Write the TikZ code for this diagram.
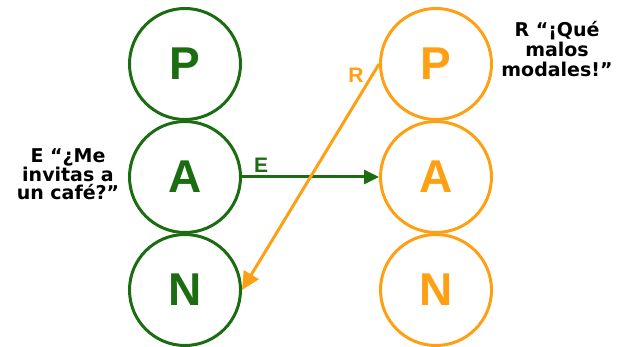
\documentclass[tikz,border=0pt]{standalone}
\usepackage{fontspec}
\setmainfont{Liberation Sans}
\newfontfamily\dvfont{DejaVu Sans}
\usetikzlibrary{arrows.meta}
\definecolor{pgreen}{RGB}{28,108,18}
\definecolor{porange}{RGB}{255,160,20}
\tikzset{
  ring/.style={circle, draw, line width=3pt, minimum size=111pt, inner sep=0pt,
    font=\fontsize{46}{46}\selectfont\bfseries},
  gring/.style={ring, draw=pgreen, text=pgreen},
  oring/.style={ring, draw=porange, text=porange},
  say/.style={align=center, font=\dvfont\bfseries\fontsize{19}{17.5}\selectfont, inner sep=0pt},
  lab/.style={font=\fontsize{21}{21}\selectfont\bfseries, inner sep=0pt}
}
\begin{document}
\begin{tikzpicture}[x=1pt,y=-1pt]
\useasboundingbox (0,0) rectangle (618,347);
\node[gring] (gP) at (185,64) {P};
\node[gring] (gA) at (185,177) {A};
\node[gring] (gN) at (185,290) {N};
\node[oring] (oP) at (436,64) {P};
\node[oring] (oA) at (436,177) {A};
\node[oring] (oN) at (436,290) {N};
\draw[pgreen, line width=3pt, -{Triangle[length=15pt,width=14pt]}] (gA.east) -- (oA.west);
\draw[porange, line width=3pt, -{Triangle[length=18pt,width=17pt]}] (oP.west) -- (gN.east);
\node[lab, text=pgreen] (lE) at (261,165) {E};
\node[lab, text=porange] (lR) at (356,75) {R};
\node[say] (tE) at (68,174) {E “¿Me\\invitas a\\un café?”};
\node[say, font=\dvfont\bfseries\fontsize{19}{20}\selectfont] (tR) at (557,49) {R “¡Qué\\malos\\modales!”};
\end{tikzpicture}
\end{document}
